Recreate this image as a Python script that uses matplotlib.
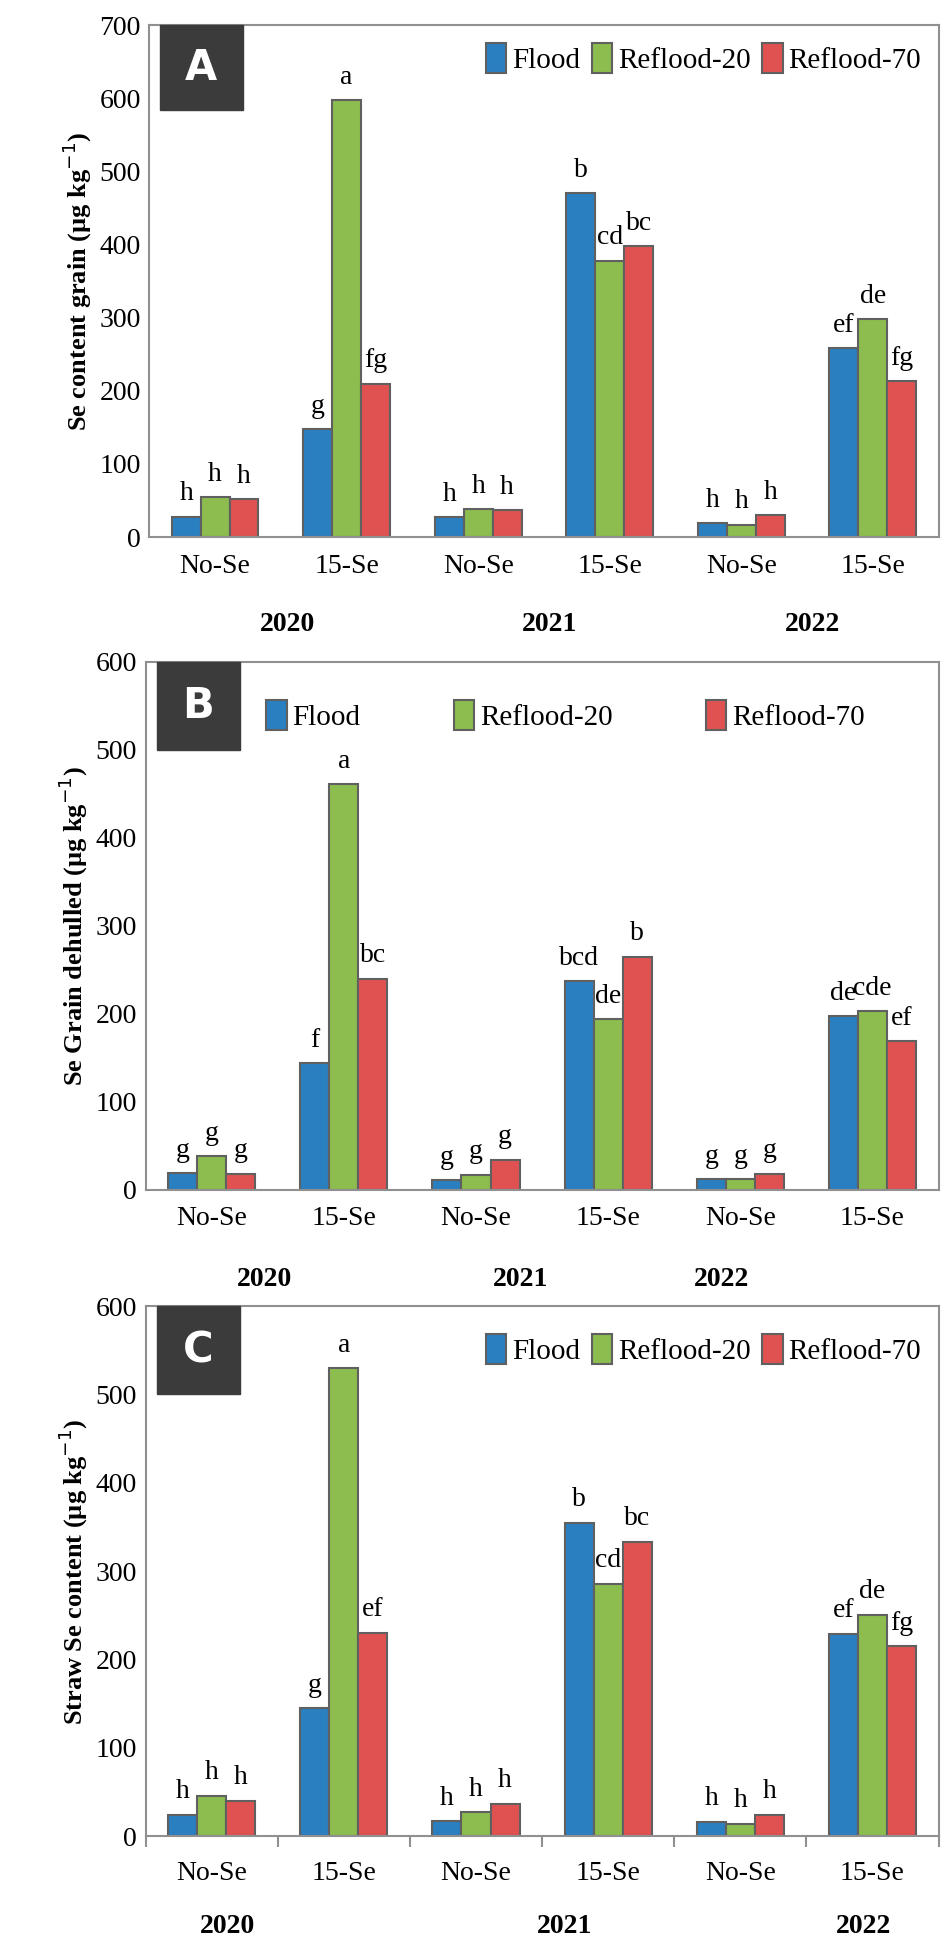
import numpy as np
import matplotlib.pyplot as plt
from matplotlib.patches import Rectangle

plt.rcParams['font.family'] = ['Liberation Serif', 'DejaVu Serif']

treatments = ['No-Se', '15-Se', 'No-Se', '15-Se', 'No-Se', '15-Se']
series = ['Flood', 'Reflood-20', 'Reflood-70']
colors = ['#2a7fc1', '#8cbd4e', '#e05252']

# Panel A: Se content grain
a_flood = [28, 148, 27, 470, 19, 258]
a_r20 = [55, 598, 38, 378, 17, 298]
a_r70 = [52, 210, 37, 398, 30, 213]
a_lab_flood = ['h', 'g', 'h', 'b', 'h', 'ef']
a_lab_r20 = ['h', 'a', 'h', 'cd', 'h', 'de']
a_lab_r70 = ['h', 'fg', 'h', 'bc', 'h', 'fg']

# Panel B: Se grain dehulled
b_flood = [19, 144, 11, 237, 12, 197]
b_r20 = [38, 461, 17, 194, 12, 203]
b_r70 = [18, 240, 34, 265, 18, 169]
b_lab_flood = ['g', 'f', 'g', 'bcd', 'g', 'de']
b_lab_r20 = ['g', 'a', 'g', 'de', 'g', 'cde']
b_lab_r70 = ['g', 'bc', 'g', 'b', 'g', 'ef']

# Panel C: straw Se content
c_flood = [24, 145, 17, 355, 16, 229]
c_r20 = [46, 530, 27, 286, 14, 251]
c_r70 = [40, 230, 37, 333, 24, 215]
c_lab_flood = ['h', 'g', 'h', 'b', 'h', 'ef']
c_lab_r20 = ['h', 'a', 'h', 'cd', 'h', 'de']
c_lab_r70 = ['h', 'ef', 'h', 'bc', 'h', 'fg']

years = ['2020', '2021', '2022']

fig = plt.figure(figsize=(9.51, 19.41), dpi=100)

panels = [
    dict(rect=[0.157, 0.7233, 0.83, 0.2637], letter='A', data=[a_flood, a_r20, a_r70],
         labels=[a_lab_flood, a_lab_r20, a_lab_r70], ymax=700,
         ylabel='Se content grain (µg kg$^{-1}$)', year_x=[0.55, 2.54, 4.54],
         legend=dict(loc='upper right', bbox_to_anchor=(1.0, 1.0), columnspacing=0.4), ticks=False),
    dict(rect=[0.153, 0.387, 0.834, 0.272], letter='B', data=[b_flood, b_r20, b_r70],
         labels=[b_lab_flood, b_lab_r20, b_lab_r70], ymax=600,
         ylabel='Se Grain dehulled (µg kg$^{-1}$)', year_x=[0.40, 2.34, 3.86],
         legend=dict(loc='upper left', bbox_to_anchor=(0.13, 0.96), columnspacing=3.2), ticks=False),
    dict(rect=[0.153, 0.054, 0.834, 0.273], letter='C', data=[c_flood, c_r20, c_r70],
         labels=[c_lab_flood, c_lab_r20, c_lab_r70], ymax=600,
         ylabel='Straw Se content (µg kg$^{-1}$)', year_x=[0.12, 2.67, 4.93],
         legend=dict(loc='upper right', bbox_to_anchor=(1.0, 0.98), columnspacing=0.4), ticks=True),
]

x = np.arange(len(treatments))
w = 0.22
for p in panels:
    ax = fig.add_axes(p['rect'])
    for i, (vals, labs) in enumerate(zip(p['data'], p['labels'])):
        pos = x + (i - 1) * w
        ax.bar(pos, vals, w, color=colors[i], edgecolor='#606060', linewidth=1.5, label=series[i])
        for xx, v, t in zip(pos, vals, labs):
            ax.text(xx, v + p['ymax'] * 0.02, t, ha='center', va='bottom', fontsize=20)
    ax.set_xlim(-0.5, 5.5)
    ax.set_ylim(0, p['ymax'])
    ax.set_yticks(np.arange(0, p['ymax'] + 1, 100))
    ax.tick_params(axis='y', labelsize=20, length=0, pad=6)
    ax.set_xticks(x)
    ax.set_xticklabels(treatments, fontsize=20)
    if p['ticks']:
        ax.set_xticks(np.arange(-0.5, 6, 1), minor=True)
        ax.tick_params(axis='x', which='major', length=0, pad=18)
        ax.tick_params(axis='x', which='minor', length=8, width=1.5, color='#909090')
    else:
        ax.tick_params(axis='x', length=0, pad=12)
    for s in ax.spines.values():
        s.set_color('#909090')
        s.set_linewidth(1.5)
    ax.set_ylabel(p['ylabel'], fontsize=19, fontweight='bold', labelpad=4)
    for yx, yr in zip(p['year_x'], years):
        ax.text(yx, -0.17, yr, transform=ax.get_xaxis_transform(), ha='center', va='center',
                fontsize=20, fontweight='bold')
    ax.add_patch(Rectangle((0.014, 0.834), 0.105, 0.166, transform=ax.transAxes,
                           facecolor='#3b3b3b', edgecolor='#3b3b3b', zorder=5, clip_on=False))
    ax.text(0.066, 0.917, p['letter'], transform=ax.transAxes, ha='center', va='center',
            color='white', fontsize=30, fontweight='bold', family='DejaVu Sans', zorder=6)
    ax.legend(ncol=3, frameon=False, fontsize=21, handlelength=0.7, handleheight=1.2,
              handletextpad=0.2, borderaxespad=0.2, **p['legend'])

fig.savefig('out.png', dpi=100)
